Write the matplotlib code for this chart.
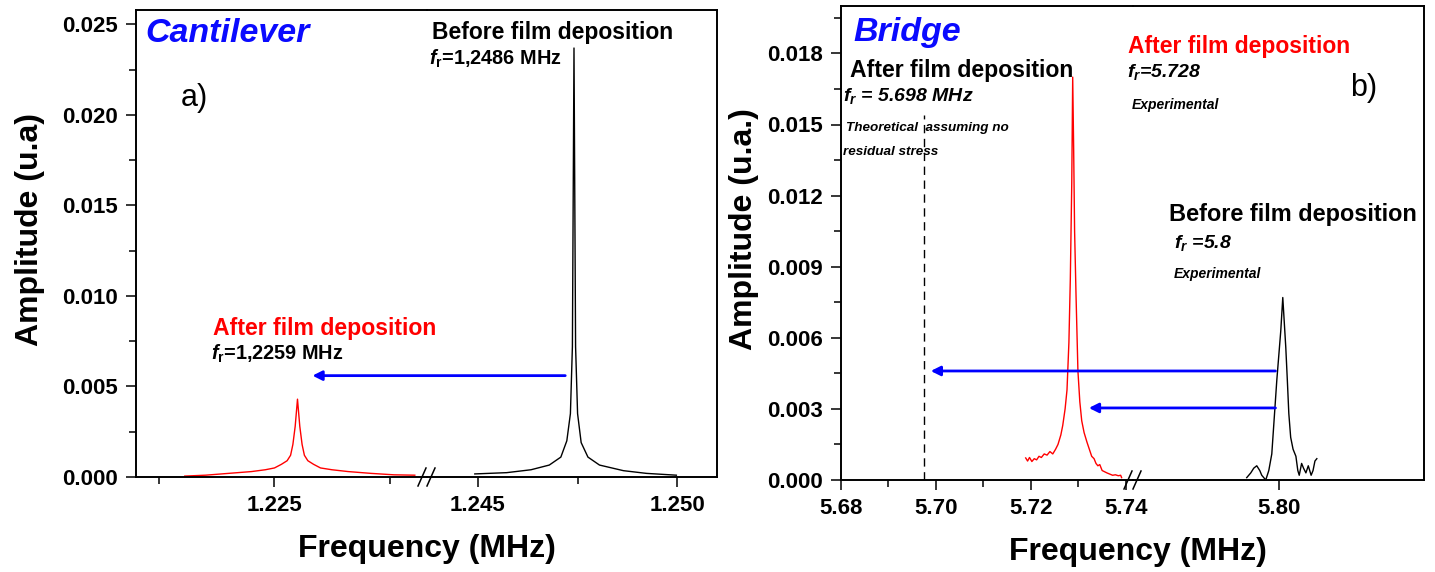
import numpy as np
import matplotlib.pyplot as plt
import matplotlib.ticker as ticker
from matplotlib.patches import ConnectionPatch
from matplotlib.lines import Line2D

# 画像サイズ (px)
W, H = 1435, 572

# ---- データ (a) Cantilever ----
cant_after_f = [1.2211, 1.2220, 1.2230, 1.2240, 1.2246, 1.2250, 1.2253, 1.22555, 1.2257,
                1.2258, 1.2259, 1.2260, 1.2261, 1.2262, 1.2263, 1.22645, 1.2267, 1.2270,
                1.2275, 1.2282, 1.2292, 1.2302, 1.2311]
cant_after_a = [0.00005, 0.0001, 0.0002, 0.0003, 0.0004, 0.0005, 0.0007, 0.0009, 0.0012,
                0.0018, 0.0028, 0.0043, 0.0028, 0.0018, 0.0012, 0.0009, 0.0007, 0.0005,
                0.0004, 0.0003, 0.0002, 0.00012, 0.0001]
cant_before_f = [1.24492, 1.24572, 1.24633, 1.24679, 1.24708, 1.24723, 1.24732, 1.24737,
                 1.24741, 1.24745, 1.24750, 1.24759, 1.24776, 1.24805, 1.24865, 1.24923, 1.24998]
cant_before_a = [0.00017, 0.00024, 0.0004, 0.00066, 0.0011, 0.002, 0.0035, 0.0072,
                 0.0237, 0.0072, 0.0035, 0.0019, 0.0011, 0.00066, 0.00035, 0.0002, 0.0001]
cant_arrow = (1.24719, 1.22665, 0.0056)   # 始点, 終点, 高さ

# ---- データ (b) Bridge ----
bridge_after_f = [5.7189, 5.7193, 5.7197, 5.7202, 5.7207, 5.7212, 5.7217, 5.7222, 5.7228,
                  5.7234, 5.7240, 5.7246, 5.7252, 5.7257, 5.7263, 5.7267, 5.7272, 5.7276,
                  5.7280, 5.7283, 5.7286, 5.7288, 5.7290, 5.7292, 5.7295, 5.7299, 5.7303,
                  5.7307, 5.7312, 5.7318, 5.7323, 5.7328, 5.7333, 5.7337, 5.7341, 5.7345,
                  5.7350, 5.7355, 5.7360, 5.7366, 5.7372, 5.7378, 5.7384, 5.7389, 5.7391]
bridge_after_a = [0.00093, 0.0008, 0.00095, 0.00078, 0.0009, 0.00085, 0.001, 0.00095, 0.0011,
                  0.00105, 0.0012, 0.0011, 0.0013, 0.0015, 0.0019, 0.0023, 0.0030, 0.0038,
                  0.0058, 0.0085, 0.0125, 0.0170, 0.0140, 0.0105, 0.0078, 0.0046, 0.0033,
                  0.0025, 0.0020, 0.0016, 0.0013, 0.0010, 0.0009, 0.0007, 0.0006, 0.00065,
                  0.0004, 0.00035, 0.0003, 0.00025, 0.0002, 0.00022, 0.00018, 0.0002, 0.0001]
bridge_before_f = [5.79326, 5.79411, 5.79474, 5.79537, 5.7960, 5.79642, 5.79726, 5.7979,
                   5.79853, 5.79958, 5.80042, 5.80084, 5.80147, 5.8018, 5.80211, 5.8025,
                   5.8030, 5.8036, 5.8040, 5.8043, 5.8048, 5.8052, 5.8057, 5.8062, 5.8068,
                   5.8072, 5.8076, 5.8080]
bridge_before_a = [0.0001, 0.0003, 0.0005, 0.0006, 0.0004, 0.0002, 0.0, 0.0004,
                   0.0011, 0.0042, 0.0063, 0.0077, 0.0056, 0.0042, 0.0028, 0.0018,
                   0.0013, 0.0010, 0.0004, 0.0002, 0.0007, 0.0005, 0.0003, 0.0006, 0.0002,
                   0.0004, 0.0008, 0.0009]
theo_f = 5.6975
theo_top = 0.0154
bridge_arrows = [(5.7993, 5.6989, 0.0046), (5.7993, 5.7322, 0.00304)]

# ---- フォント ----
plt.rcParams['font.family'] = ['Liberation Sans', 'DejaVu Sans']
plt.rcParams['font.weight'] = 'bold'
plt.rcParams['mathtext.fontset'] = 'custom'
plt.rcParams['mathtext.it'] = 'Liberation Sans:italic:bold'
plt.rcParams['mathtext.rm'] = 'Liberation Sans:bold'
plt.rcParams['mathtext.bf'] = 'Liberation Sans:bold'

fig = plt.figure(figsize=(W / 100, H / 100), dpi=100)


# ピクセル指定で軸を作る
def PxAxes(x0, x1, y0, y1):
    return fig.add_axes([x0 / W, 1 - y1 / H, (x1 - x0) / W, (y1 - y0) / H])
# End_Def


# 軸の整形
def StyleAxes(ax, isLeft, fmt):
    ax.patch.set_visible(False)
    for s in ax.spines.values():
        s.set_linewidth(1.4)
    if isLeft:
        ax.spines['right'].set_visible(False)
    else:
        ax.spines['left'].set_visible(False)
        ax.tick_params(axis='y', which='both', left=False, labelleft=False)
    ax.tick_params(which='both', direction='out', top=False, right=False, width=1.1)
    ax.tick_params(which='major', length=7, labelsize=16, pad=6)
    ax.tick_params(which='minor', length=5)
    ax.xaxis.set_major_formatter(ticker.FormatStrFormatter(fmt))
# End_Def


# 軸の切れ目 "//"
def BreakMark(xpx, ypx):
    for dx in (-5, 4):
        fig.add_artist(Line2D([(xpx + dx - 4) / W, (xpx + dx + 4) / W],
                              [1 - (ypx + 9) / H, 1 - (ypx - 9) / H],
                              transform=fig.transFigure, color='k', lw=1.1))
# End_Def


def Text(xpx, ypx, s, **kw):
    fig.text(xpx / W, 1 - ypx / H, s, ha='left', va='center', **kw)
# End_Def


# ======== (a) Cantilever ========
a1 = PxAxes(136, 427, 10, 477)
a2 = PxAxes(427, 717, 10, 477)
a1.plot(cant_after_f, cant_after_a, color='#ff0000', lw=1.0)
a2.plot(cant_before_f, cant_before_a, color='k', lw=1.0)
a1.set_xlim(1.21898, 1.23163)
a2.set_xlim(1.24372, 1.25100)
for ax in (a1, a2):
    ax.set_ylim(0, 0.0258)
a1.set_xticks([1.225])
a1.set_xticks([1.220, 1.230], minor=True)
a2.set_xticks([1.245, 1.250])
a2.set_xticks([1.2475], minor=True)
a1.set_yticks(np.arange(0, 0.0251, 0.005))
a1.set_yticks(np.arange(0.0025, 0.026, 0.005), minor=True)
a1.yaxis.set_major_formatter(ticker.FormatStrFormatter('%.3f'))
StyleAxes(a1, True, '%.3f')
StyleAxes(a2, False, '%.3f')
BreakMark(427, 477)

con = ConnectionPatch(xyA=(cant_arrow[0], cant_arrow[2]), coordsA='data', axesA=a2,
                      xyB=(cant_arrow[1], cant_arrow[2]), coordsB='data', axesB=a1,
                      arrowstyle='-|>', color='#0000ff', lw=2, mutation_scale=14,
                      shrinkA=0, shrinkB=0)
fig.add_artist(con)

Text(145, 33, 'Cantilever', color='#0a0aff', fontsize=24.5, fontstyle='italic')
Text(181, 98, 'a)', fontsize=22, fontweight='normal')
Text(432, 33, 'Before film deposition', fontsize=16.5)
Text(429, 59, r'$f_{\mathrm{r}}$=1,2486 MHz', fontsize=14.3)
Text(213, 328, 'After film deposition', color='#ff0000', fontsize=16.6)
Text(211, 354, r'$f_{\mathrm{r}}$=1,2259 MHz', fontsize=14.3)
fig.text(30 / W, 1 - 230 / H, 'Amplitude (u.a)', rotation=90, ha='center', va='center', fontsize=23)
fig.text(427 / W, 1 - 549 / H, 'Frequency (MHz)', ha='center', va='center', fontsize=23)

# ======== (b) Bridge ========
b1 = PxAxes(841, 1133, 6, 480)
b2 = PxAxes(1133, 1424, 6, 480)
b1.plot(bridge_after_f, bridge_after_a, color='#ff0000', lw=1.0)
b2.plot(bridge_before_f, bridge_before_a, color='k', lw=1.0)
b1.plot([theo_f, theo_f], [0, theo_top], color='k', lw=1.0, dashes=(6, 4))
b1.set_xlim(5.68, 5.7415)
b2.set_xlim(5.76935, 5.83053)
for ax in (b1, b2):
    ax.set_ylim(0, 0.0200)
b1.set_xticks([5.68, 5.70, 5.72, 5.74])
b1.set_xticks([5.69, 5.71, 5.73], minor=True)
b2.set_xticks([5.80])
b1.set_yticks(np.arange(0, 0.0181, 0.003))
b1.set_yticks(np.arange(0.0015, 0.0200, 0.003), minor=True)
b1.yaxis.set_major_formatter(ticker.FormatStrFormatter('%.3f'))
StyleAxes(b1, True, '%.2f')
StyleAxes(b2, False, '%.2f')
BreakMark(1133, 480)

for x0, x1, yv in bridge_arrows:
    axB = b1 if x1 < 5.7415 else b2
    con = ConnectionPatch(xyA=(x0, yv), coordsA='data', axesA=b2,
                          xyB=(x1, yv), coordsB='data', axesB=axB,
                          arrowstyle='-|>', color='#0000ff', lw=2, mutation_scale=14,
                          shrinkA=0, shrinkB=0)
    fig.add_artist(con)
# End_For

Text(853, 32, 'Bridge', color='#0a0aff', fontsize=24.5, fontstyle='italic')
Text(850, 70, 'After film deposition', fontsize=16.6)
Text(843, 96, r'$f_{r}$ = 5.698 MHz', fontsize=14, fontstyle='italic')
Text(846, 128, 'Theoretical  assuming no', fontsize=9.7, fontstyle='italic')
Text(843, 152, 'residual stress', fontsize=9.7, fontstyle='italic')
Text(1128, 47, 'After film deposition', color='#ff0000', fontsize=16.5)
Text(1127, 72, r'$f_{r}$=5.728', fontsize=14, fontstyle='italic')
Text(1132, 105, 'Experimental', fontsize=10, fontstyle='italic')
Text(1350, 88, 'b)', fontsize=22, fontweight='normal')
Text(1169, 215, 'Before film deposition', fontsize=16.9)
Text(1174, 243, r'$f_{r}$ =5.8', fontsize=14, fontstyle='italic')
Text(1174, 274, 'Experimental', fontsize=10, fontstyle='italic')
fig.text(744 / W, 1 - 229 / H, 'Amplitude (u.a.)', rotation=90, ha='center', va='center', fontsize=23)
fig.text(1138 / W, 1 - 552 / H, 'Frequency (MHz)', ha='center', va='center', fontsize=23)

fig.savefig('out.png', dpi=100)
